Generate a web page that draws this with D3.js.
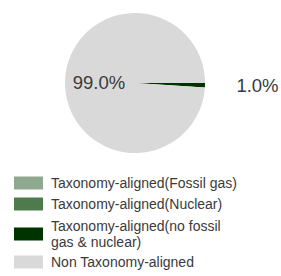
<!DOCTYPE html>
<html><head><meta charset="utf-8">
<script src="https://cdn.jsdelivr.net/npm/d3@7"></script>
<style>body{margin:0;background:#fff;}svg{display:block;}</style>
</head><body>
<svg id="c" width="281" height="276"></svg>
<script>
const categories = ["Taxonomy-aligned(Fossil gas)", "Taxonomy-aligned(Nuclear)", "Taxonomy-aligned(no fossil gas & nuclear)", "Non Taxonomy-aligned"];
const legendLines = [["Taxonomy-aligned(Fossil gas)"], ["Taxonomy-aligned(Nuclear)"], ["Taxonomy-aligned(no fossil", "gas & nuclear)"], ["Non Taxonomy-aligned"]];
const values = [0, 0, 1.0, 99.0];
const colors = ["#8fa98f", "#4e7a4e", "#003300", "#d9d9d9"];

const svg = d3.select("#c");
const font = "'Liberation Sans', Arial, sans-serif";
const cx = 135, cy = 83, r = 70;
const pie = d3.pie().sort(null).value(d => d).startAngle(Math.PI/2).endAngle(Math.PI/2 + 2*Math.PI);
const arcs = pie(values);
const arc = d3.arc().innerRadius(0).outerRadius(r);
const g = svg.append("g").attr("transform", `translate(${cx},${cy})`);
g.selectAll("path").data(arcs).enter().append("path")
  .attr("d", arc).attr("fill", (d,i) => colors[i]);

const labelPos = {2: [257.5, 85], 3: [99, 82]};
arcs.forEach((a, i) => {
  if (!labelPos[i]) return;
  svg.append("text").attr("x", labelPos[i][0]).attr("y", labelPos[i][1])
    .attr("text-anchor", "middle").attr("dominant-baseline", "central")
    .attr("font-family", font).attr("font-size", 18.5).attr("fill", "#3a3a3a")
    .text(d3.format(".1f")(a.data) + "%");
});

const rowY = [183, 204, 234, 262];
const leg = svg.append("g");
categories.forEach((c, i) => {
  leg.append("rect").attr("x", 14).attr("y", rowY[i] - 6.5).attr("width", 29).attr("height", 13).attr("fill", colors[i]);
  const lines = legendLines[i];
  lines.forEach((ln, j) => {
    leg.append("text").attr("x", 51).attr("y", rowY[i] + (j - (lines.length-1)/2) * 16.5)
      .attr("dominant-baseline", "central")
      .attr("font-family", font).attr("font-size", 14).attr("fill", "#3a3a3a").text(ln);
  });
});
</script>
</body></html>
